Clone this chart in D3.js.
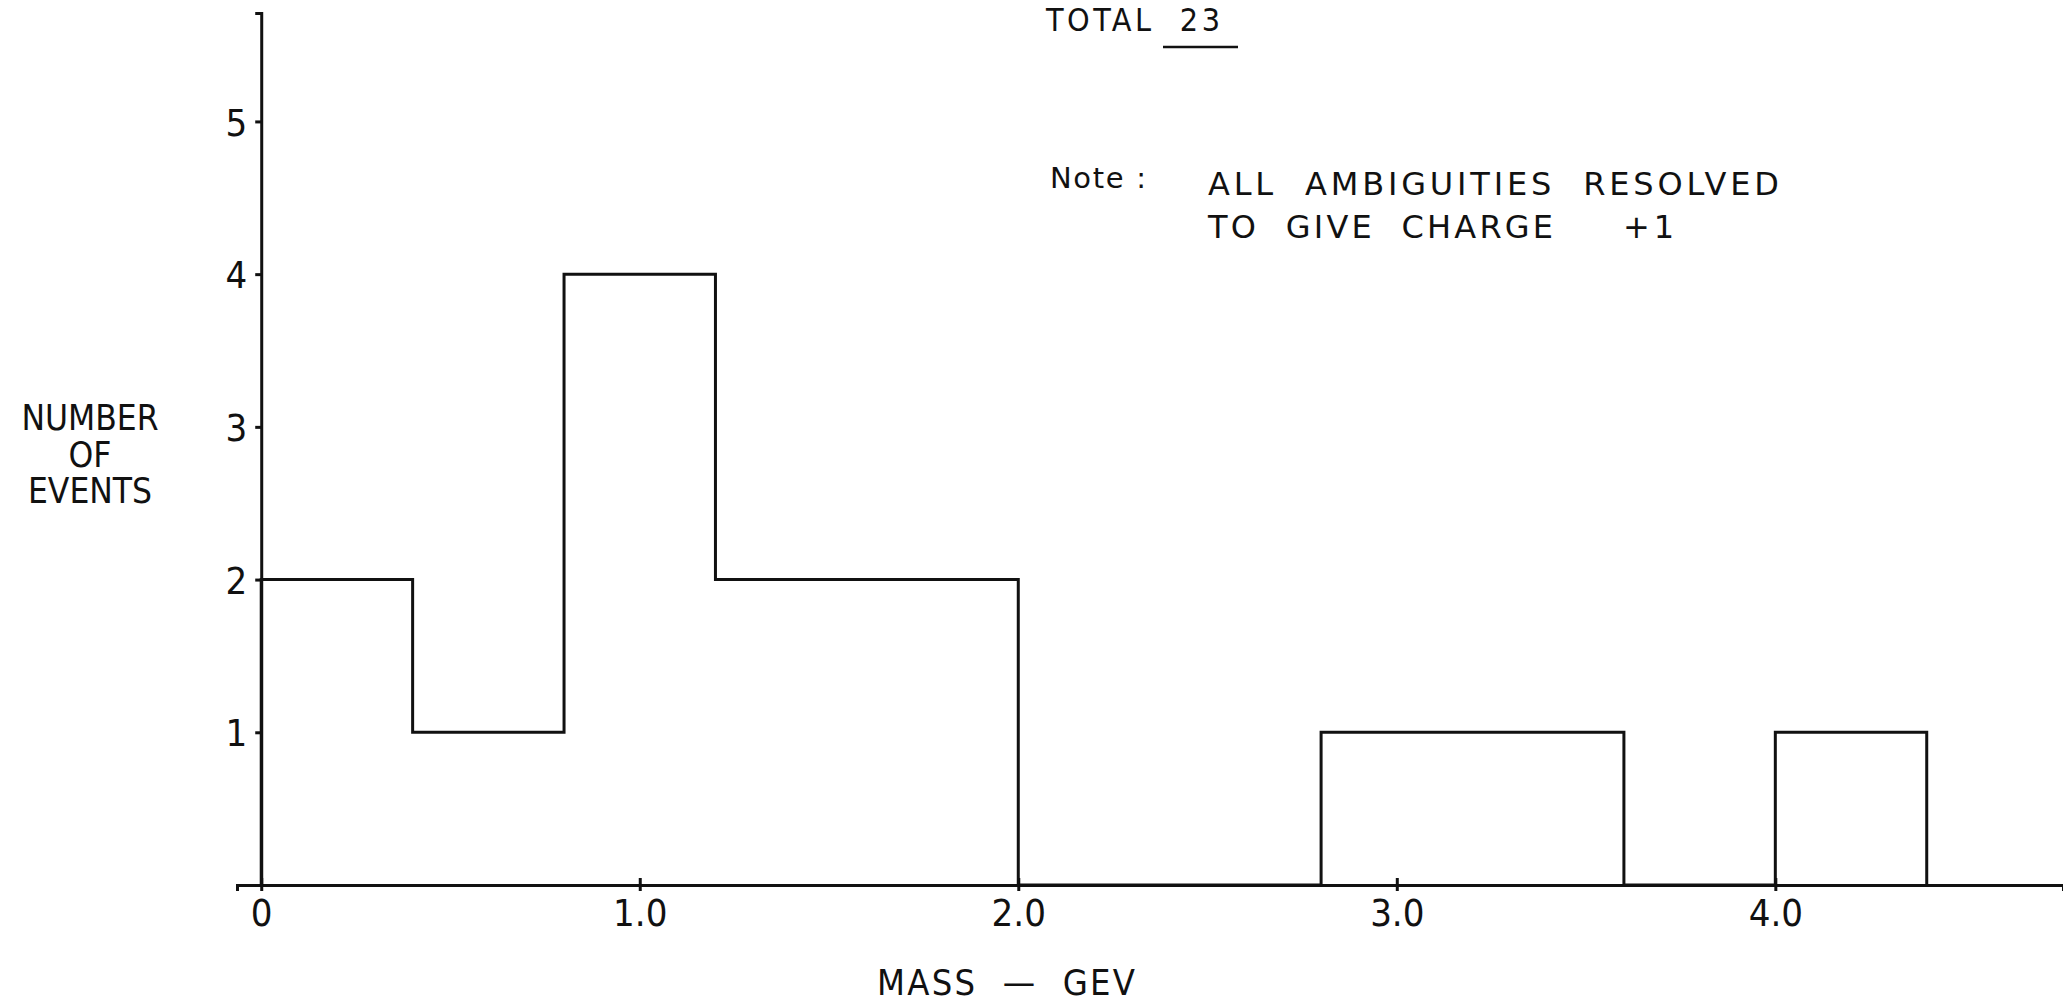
<!DOCTYPE html>
<html>
<head>
<meta charset="utf-8">
<script src="https://cdn.jsdelivr.net/npm/d3@7"></script>
<style>
  body { margin: 0; background: #fff; }
  svg text { font-family: "DejaVu Sans Condensed", "Liberation Sans Narrow", sans-serif; fill: #111; }
  svg text.note { font-family: "DejaVu Sans", sans-serif; }
  .axis path, .axis line { stroke: #111; stroke-width: 3; }
  .hist { fill: none; stroke: #111; stroke-width: 3; stroke-linejoin: miter; }
</style>
</head>
<body>
<div class="chart"></div>
<script>
// bin edges (GeV) and events per bin
var binEdges = [0, 0.4, 0.8, 1.2, 1.6, 2.0, 2.4, 2.8, 3.2, 3.6, 4.0, 4.4];
var counts   = [2, 1, 4, 2, 2, 0, 0, 1, 1, 0, 1];
var xTicks = [0, 1, 2, 3, 4];
var yTicks = [1, 2, 3, 4, 5];
var yLabelLines = ["NUMBER", "OF", "EVENTS"];
var noteLines = ["ALL  AMBIGUITIES  RESOLVED", "TO  GIVE  CHARGE"];

var width = 2063, height = 1004;

var svg = d3.select(".chart").append("svg")
    .attr("width", width)
    .attr("height", height);

var xScale = d3.scaleLinear().domain([-0.064, 4.76]).range([237, 2063]);
var yScale = d3.scaleLinear().domain([0, 5.71]).range([885, 13]);

// X axis, ticks cross the line
var xAxisEl = svg.append("g")
    .attr("class", "x axis")
    .attr("transform", "translate(0," + yScale(0) + ")")
    .call(d3.axisBottom(xScale)
      .tickValues(xTicks)
      .tickSizeOuter(0)
      .tickSize(6)
      .tickFormat(function(d) { return d === 0 ? "0" : d3.format(".1f")(d); }));
xAxisEl.selectAll(".tick line").attr("y1", -7).attr("y2", 6);
xAxisEl.selectAll(".tick text")
    .attr("y", 14)
    .attr("dy", "0.71em")
    .style("font-size", "38px");

// Y axis
var yAxisEl = svg.append("g")
    .attr("class", "y axis")
    .attr("transform", "translate(" + xScale(0) + ",0)")
    .call(d3.axisLeft(yScale)
      .tickValues(yTicks)
      .tickSizeOuter(0)
      .tickSize(6)
      .tickFormat(d3.format("d")));
yAxisEl.selectAll(".tick text")
    .attr("x", -14)
    .attr("dy", "0.36em")
    .style("font-size", "38px");

// histogram outline
var points = [[binEdges[0], 0]];
counts.forEach(function(c, i) { points.push([binEdges[i], c]); });
points.push([binEdges[binEdges.length - 1], 0]);

var line = d3.line()
    .x(function(d) { return xScale(d[0]); })
    .y(function(d) { return yScale(d[1]); })
    .curve(d3.curveStepAfter);

svg.append("path")
    .attr("class", "hist")
    .datum(points)
    .attr("d", line);

// y axis title
svg.append("g").selectAll("text")
    .data(yLabelLines)
  .enter().append("text")
    .attr("x", 90)
    .attr("y", function(d, i) { return 430 + i * 36.5; })
    .attr("text-anchor", "middle")
    .style("font-size", "35px")
    .text(function(d) { return d; });

// x axis title
svg.append("text")
    .attr("x", 877)
    .attr("y", 995)
    .attr("textLength", 258)
    .attr("lengthAdjust", "spacing")
    .style("font-size", "36px")
    .style("white-space", "pre")
    .text("MASS  \u2014  GEV");

// total
svg.append("text")
    .attr("x", 1046)
    .attr("y", 31)
    .attr("textLength", 174)
    .attr("lengthAdjust", "spacing")
    .style("font-size", "32px")
    .style("white-space", "pre")
    .text("TOTAL  23");
svg.append("line")
    .attr("x1", 1163).attr("x2", 1238)
    .attr("y1", 47).attr("y2", 47)
    .attr("stroke", "#111").attr("stroke-width", 2.5);

// note
svg.append("text")
    .attr("class", "note")
    .attr("x", 1050)
    .attr("y", 188)
    .attr("textLength", 96)
    .attr("lengthAdjust", "spacing")
    .style("font-size", "29px")
    .text("Note :");
svg.append("text")
    .attr("class", "note")
    .attr("x", 1208)
    .attr("y", 195)
    .attr("textLength", 571)
    .attr("lengthAdjust", "spacing")
    .style("font-size", "32px")
    .style("white-space", "pre")
    .text(noteLines[0]);
svg.append("text")
    .attr("class", "note")
    .attr("x", 1208)
    .attr("y", 238)
    .attr("textLength", 345)
    .attr("lengthAdjust", "spacing")
    .style("font-size", "32px")
    .style("white-space", "pre")
    .text(noteLines[1]);
svg.append("text")
    .attr("class", "note")
    .attr("x", 1623)
    .attr("y", 238)
    .attr("textLength", 51)
    .attr("lengthAdjust", "spacing")
    .style("font-size", "32px")
    .style("white-space", "pre")
    .text("+ 1");
</script>
</body>
</html>
